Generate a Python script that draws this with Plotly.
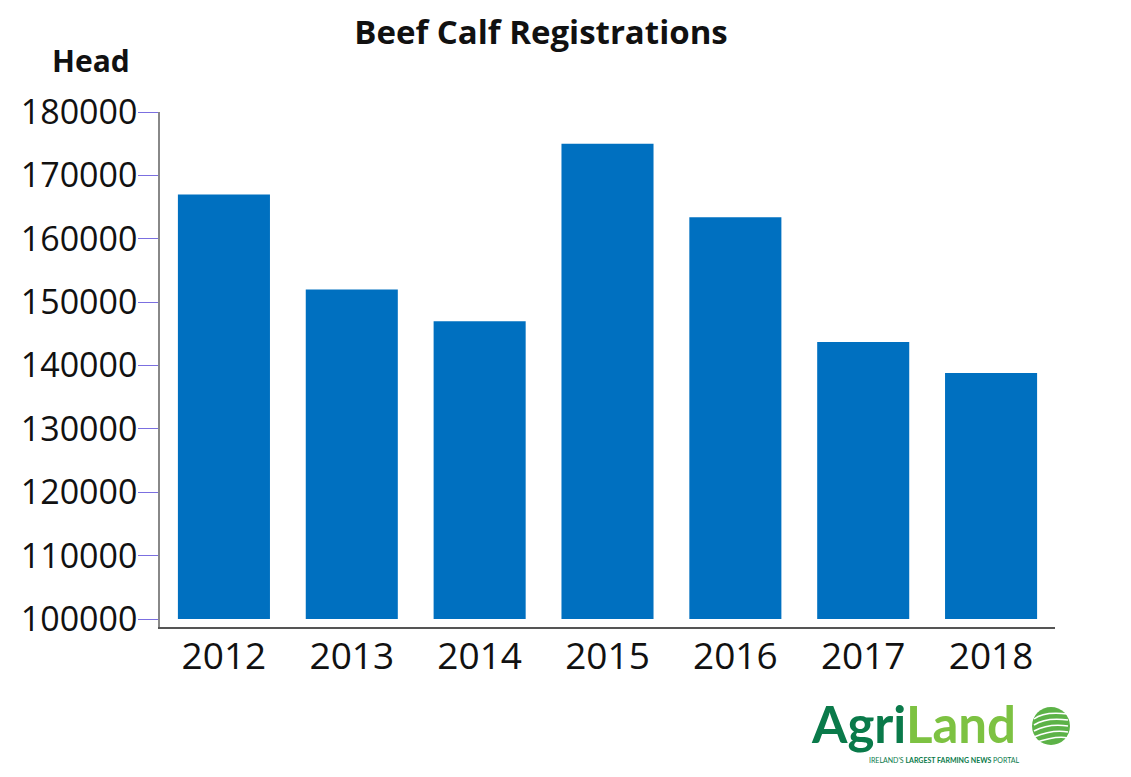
import plotly.graph_objects as go

years = ["2012", "2013", "2014", "2015", "2016", "2017", "2018"]
registrations = [167000, 152000, 147000, 175000, 163400, 143700, 138800]
BASE = 100000
tick_vals = [100000, 110000, 120000, 130000, 140000, 150000, 160000, 170000, 180000]

fig = go.Figure()
fig.add_trace(go.Bar(
    x=years,
    y=[v - BASE for v in registrations],
    base=BASE,
    marker=dict(color="#0070C0", line=dict(width=0)),
    hoverinfo="skip",
))

W, H = 1123, 769  # page adds an 8px body margin

fig.update_layout(
    width=W, height=H,
    margin=dict(l=152, r=76, t=104, b=150),
    paper_bgcolor="white", plot_bgcolor="white",
    bargap=0.28,
    showlegend=False,
    title=dict(text="<b>Beef Calf Registrations</b>", xref="container", x=(541 - 8) / W,
               xanchor="center", yref="container", y=1 - (32 - 8) / H, yanchor="middle",
               font=dict(family="Open Sans", size=33, color="#111")),
    font=dict(family="Open Sans", color="#111"),
)

fig.update_yaxes(
    range=[98740, 180000],
    tickvals=tick_vals, tickformat="d",
    showgrid=False, zeroline=False,
    showline=True, linecolor="#888", linewidth=1.5,
    ticks="outside", ticklen=20, tickcolor="#7b6fe0", tickwidth=1.2,
    ticklabelstandoff=-6,
    tickfont=dict(family="Open Sans", size=34, color="#111"),
)
fig.update_xaxes(
    showgrid=False, zeroline=False,
    showline=True, linecolor="#555", linewidth=1.5,
    ticks="", ticklabelstandoff=-4,
    tickfont=dict(family="Open Sans", size=37, color="#111"),
)


def px(x):
    return (x - 160) / 895


def py(y):
    return (627 - y) / 515


# axis unit label
fig.add_annotation(text="<b>Head</b>", xref="paper", yref="paper",
                   x=px(91), y=py(60), xanchor="center", yanchor="middle",
                   showarrow=False, font=dict(family="Open Sans", size=30, color="#111"))

# logo
fig.add_annotation(
    text="<b><span style='color:#0a7a4a'>Agri</span><span style='color:#7dc242'>Land</span></b>",
    xref="paper", yref="paper", x=px(809), y=py(723),
    xanchor="left", yanchor="middle", showarrow=False,
    font=dict(family="Lato", size=51))
fig.add_annotation(
    text="<span style='color:#0a7a4a'>IRELAND'S </span><b><span style='color:#0a7a4a'>LARGEST FARMING NEWS</span></b><span style='color:#0a7a4a'> PORTAL</span>",
    xref="paper", yref="paper", x=px(1022), y=py(760),
    xanchor="right", yanchor="middle", showarrow=False,
    font=dict(family="Lato", size=7))

# logo emblem (circle with white furrows)
fig.add_shape(type="circle", xref="paper", yref="paper",
              x0=px(1032), x1=px(1070), y0=py(745), y1=py(707),
              fillcolor="#5cb247", line=dict(width=0), layer="above")
for yy, cx in [(717, 1044), (723, 1046), (729, 1049), (735, 1053), (741, 1057)]:
    fig.add_shape(type="path", xref="paper", yref="paper",
                  path=f"M {px(1034)},{py(yy + 2)} Q {px(cx)},{py(yy - 6)} {px(1068)},{py(yy - 3)}",
                  line=dict(color="white", width=1.6), layer="above")

fig.write_html("out.html")
